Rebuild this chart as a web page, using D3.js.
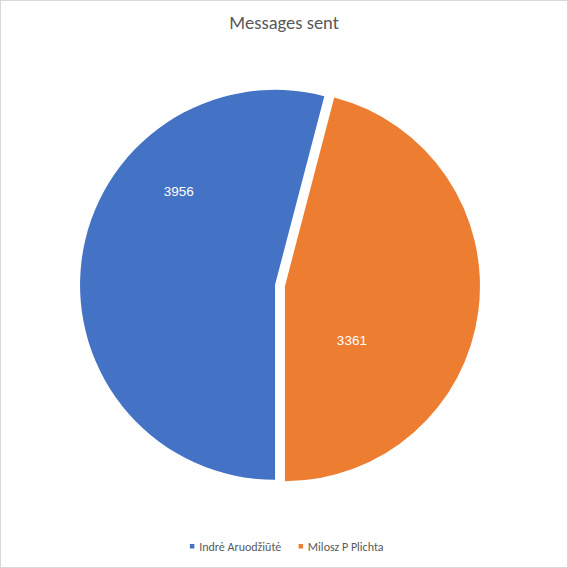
<!DOCTYPE html>
<html>
<head>
<meta charset="utf-8">
<script src="https://cdn.jsdelivr.net/npm/d3@7"></script>
<style>
  html, body { margin: 0; padding: 0; background: #fff; }
  svg { display: block; }
</style>
</head>
<body>
<svg id="chart" width="568" height="568"></svg>
<script>
// ---- data ----
const title = "Messages sent";
const categories = ["Indrė Aruodžiūtė", "Milosz P Plichta"];
const values = [3956, 3361];
const colors = ["#4472C4", "#ED7D31"];

// ---- layout ----
const W = 568, H = 568;
const cx = 280, cy = 285.5, R = 195, explode = 5;
const labelSpanFrac = 0.69;          // where along each slice's sweep the label sits
const labelRadial = [0.69, 0.44];    // label distance from centre as a fraction of radius

const data = categories.map((c, i) => ({ name: c, value: values[i], color: colors[i] }));

const svg = d3.select("#chart");
svg.append("rect").attr("x", 0.5).attr("y", 0.5).attr("width", W - 1).attr("height", H - 1)
  .attr("fill", "#fff").attr("stroke", "#d9d9d9").attr("stroke-width", 1);

svg.append("text").attr("x", 284).attr("y", 28.5).attr("text-anchor", "middle")
  .attr("font-family", "Carlito, Calibri, Lato, 'Liberation Sans', sans-serif")
  .attr("font-size", 18.5).attr("fill", "#595959").text(title);

const pie = d3.pie().value(d => d.value).sort(null).startAngle(Math.PI).endAngle(3 * Math.PI);
const arcs = pie(data);
const arc = d3.arc().innerRadius(0).outerRadius(R);

const g = svg.append("g").attr("transform", `translate(${cx},${cy})`);

const slice = g.selectAll("g.slice").data(arcs).join("g").attr("class", "slice")
  .attr("transform", d => {
    const mid = (d.startAngle + d.endAngle) / 2;
    return `translate(${explode * Math.sin(mid)},${-explode * Math.cos(mid)})`;
  });

slice.append("path").attr("d", arc).attr("fill", d => d.data.color);

slice.append("text")
  .attr("transform", (d, i) => {
    const a = d.startAngle + (d.endAngle - d.startAngle) * labelSpanFrac;
    const r = R * labelRadial[i];
    return `translate(${r * Math.sin(a)},${-r * Math.cos(a)})`;
  })
  .attr("text-anchor", "middle").attr("dy", "0.35em")
  .attr("font-family", "'Liberation Sans', Arial, sans-serif").attr("font-size", 13.5)
  .attr("fill", "#fff").text(d => d.data.value);

// legend
const legend = svg.append("g");
const fontLeg = "Carlito, Calibri, Lato, 'Liberation Sans', sans-serif";
const items = legend.selectAll("g").data(data).join("g");
items.append("rect").attr("width", 4.5).attr("height", 4.5).attr("y", 544).attr("fill", d => d.color);
items.append("text").attr("x", 9.3).attr("y", 551).attr("font-family", fontLeg)
  .attr("font-size", 12).attr("fill", "#595959").text(d => d.name);
let x = 0;
const positions = [];
items.each(function () {
  const w = d3.select(this).select("text").node().getComputedTextLength();
  positions.push(x);
  x += 9.3 + w + 17.3;
});
const total = x - 17.3;
const start = 286.7 - total / 2;
items.attr("transform", (d, i) => `translate(${start + positions[i]},0)`);
</script>
</body>
</html>
